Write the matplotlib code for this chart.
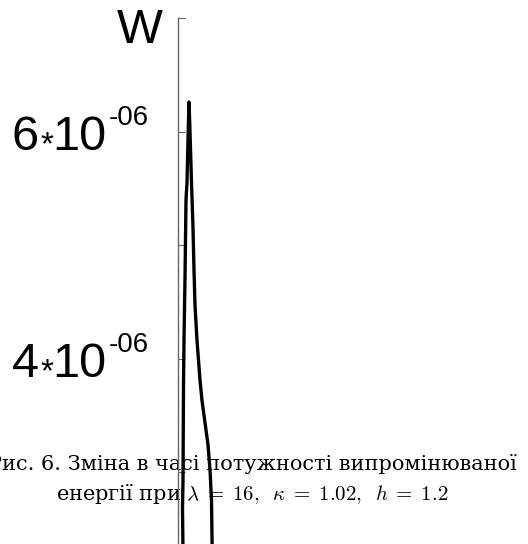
import matplotlib
matplotlib.use("Agg")
import matplotlib.pyplot as plt
import matplotlib.transforms as mtransforms

# W(t) (W in units of 1e-6, t in arbitrary units)
t = [5.0, 4.5, 5.0, 5.5, 6.0, 7.0, 8.0, 9.0, 10.0, 11.0,
     12.0, 13.0, 13.5, 15.0, 16.0, 17.0, 19.0, 22.0, 24.0, 30.0, 32.0, 33.5, 34.2]
w = [2.30, 2.68, 2.93, 3.77, 4.16, 4.71, 5.40, 5.55, 5.93, 6.26,
     6.00, 5.70, 5.55, 5.15, 4.78, 4.47, 4.16, 3.81, 3.63, 3.24, 3.02, 2.75, 2.30]
w = [v * 1e-6 for v in w]

major_ticks = [4e-6, 6e-6]
minor_ticks = [3e-6, 5e-6, 7e-6]
tick_mant = ["4", "6"]
tick_exp = "-06"
ylabel = "W"
caption1 = "Рис. 6. Зміна в часі потужності випромінюваної"
caption2 = r"енергії при $\lambda\;=\;16,\;\;\kappa\;=\;1.02,\;\;h\;=\;1.2$"

grey = "#666666"

fig = plt.figure(figsize=(5.28, 5.44), dpi=100)
ax = fig.add_axes([178 / 528, 0.0, 1 - 178 / 528, 1 - 18 / 544])
ax.patch.set_visible(False)

ax.plot(t, w, color="black", lw=2.4, solid_joinstyle="round", solid_capstyle="round")

ax.set_xlim(0, 350)
ax.set_ylim(2.366e-6, 7e-6)
for s in ["top", "right", "bottom"]:
    ax.spines[s].set_visible(False)
ax.spines["left"].set_color(grey)
ax.spines["left"].set_linewidth(1.0)
ax.set_xticks([])
ax.set_yticks(major_ticks)
ax.set_yticks(minor_ticks, minor=True)
ax.set_yticklabels([])
ax.tick_params(axis="y", which="both", direction="in", length=5, width=0.8,
               color=grey)

# tick labels as "6*10^-06"
trans = mtransforms.blended_transform_factory(ax.transAxes, ax.transData)
fam = ["Liberation Sans", "DejaVu Sans"]
for v, m in zip(major_ticks, tick_mant):
    kw = dict(xy=(0, v), xycoords=trans, textcoords="offset pixels",
              va="baseline", ha="left", family=fam, annotation_clip=False)
    ax.annotate(m, xytext=(-166, -18.5), fontsize=35, **kw)
    ax.annotate("*", xytext=(-138, -23), fontsize=24, **kw)
    ax.annotate("10", xytext=(-126, -18.5), fontsize=35, **kw)
    ax.annotate(tick_exp, xytext=(-69, 6.5), fontsize=20, **kw)

ax.annotate(ylabel, xy=(0, 1), xycoords="axes fraction", xytext=(-38.5, -25),
            textcoords="offset pixels", ha="center", va="baseline",
            fontsize=35, family=fam, annotation_clip=False)

fig.text(252 / 528, 1 - 470 / 544, caption1, ha="center", va="baseline",
         fontsize=15, family="DejaVu Serif", zorder=-1)
fig.text(252 / 528, 1 - 500 / 544, caption2, ha="center", va="baseline",
         fontsize=15, family="DejaVu Serif", math_fontfamily="cm", zorder=-1)

fig.savefig("out.png", dpi=100)
